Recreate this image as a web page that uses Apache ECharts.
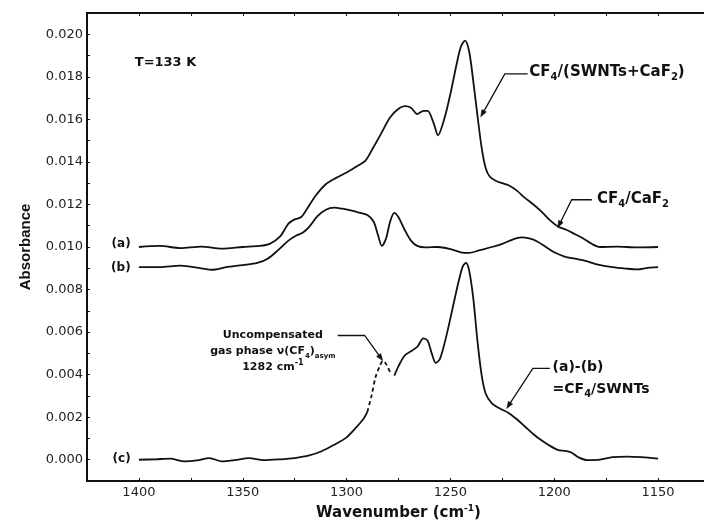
<!DOCTYPE html>
<html><head><meta charset="utf-8">
<script src="https://cdn.jsdelivr.net/npm/echarts@6/dist/echarts.min.js"></script>
<style>html,body{margin:0;padding:0;background:#fff}#c{width:704px;height:525px}</style>
</head><body><div id="c"></div>
<script>
// ---- data (wavenumber in cm^-1, absorbance) ----
const waveA = [1400,1390,1380,1370,1360,1350,1342,1337,1332,1328,1325,1322,1319,1315,1310,1305,1300,1295,1291,1287,1283,1279,1275,1272,1269,1266,1263,1261,1258,1256,1253,1250,1247,1245,1243,1241,1239,1237,1235,1233,1231,1228,1225,1222,1218,1214,1210,1206,1202,1198,1194,1190,1186,1182,1178,1170,1160,1150];
const absA  = [0.01000,0.01005,0.00995,0.01002,0.00992,0.01000,0.01005,0.01015,0.01050,0.01110,0.01130,0.01140,0.01180,0.01240,0.01295,0.01325,0.01350,0.01380,0.01405,0.01470,0.01540,0.01610,0.01650,0.01662,0.01655,0.01625,0.01640,0.01640,0.01580,0.01525,0.01600,0.01720,0.01860,0.01940,0.01970,0.01920,0.01780,0.01620,0.01470,0.01370,0.01330,0.01310,0.01300,0.01290,0.01265,0.01230,0.01200,0.01165,0.01125,0.01095,0.01080,0.01060,0.01040,0.01015,0.01000,0.01002,0.00998,0.01000];

const waveB = [1400,1390,1380,1370,1365,1358,1350,1343,1338,1333,1328,1324,1321,1318,1314,1310,1306,1302,1298,1294,1290,1287,1285,1283,1281,1279,1277,1275,1272,1269,1266,1262,1256,1250,1245,1241,1236,1230,1225,1220,1216,1212,1208,1204,1200,1195,1190,1185,1180,1172,1165,1160,1155,1150];
const absB  = [0.00905,0.00905,0.00912,0.00900,0.00893,0.00905,0.00915,0.00925,0.00945,0.00985,0.01030,0.01055,0.01068,0.01095,0.01145,0.01175,0.01185,0.01180,0.01172,0.01162,0.01150,0.01120,0.01060,0.01005,0.01040,0.01120,0.01160,0.01140,0.01080,0.01030,0.01005,0.00998,0.01000,0.00990,0.00975,0.00972,0.00985,0.01000,0.01015,0.01035,0.01045,0.01040,0.01025,0.01000,0.00975,0.00955,0.00945,0.00935,0.00920,0.00905,0.00898,0.00895,0.00902,0.00905];

// (c) = (a)-(b); split into solid / dashed (uncompensated gas phase) / solid
const waveC1 = [1400,1392,1385,1378,1372,1366,1360,1354,1347,1340,1332,1325,1318,1312,1306,1300,1296,1292,1290];
const absC1  = [0.00000,0.00002,0.00005,-0.00008,-0.00003,0.00008,-0.00008,-0.00002,0.00008,-0.00002,0.00002,0.00008,0.00020,0.00040,0.00070,0.00105,0.00145,0.00190,0.00225];
const waveC2 = [1290,1288,1286,1284,1282.5,1281,1279];
const absC2  = [0.00225,0.00300,0.00390,0.00440,0.00465,0.00450,0.00410];
const waveC3 = [1277,1275,1272,1269,1266,1263,1261,1259,1257,1255,1252,1249,1246,1244,1242.5,1241,1239,1237,1235,1233,1230,1226,1222,1218,1214,1210,1206,1202,1198,1195,1192,1188,1184,1178,1172,1165,1158,1150];
const absC3  = [0.00395,0.00440,0.00490,0.00510,0.00530,0.00570,0.00560,0.00500,0.00455,0.00475,0.00580,0.00710,0.00840,0.00910,0.00925,0.00890,0.00760,0.00560,0.00400,0.00310,0.00265,0.00240,0.00220,0.00190,0.00155,0.00120,0.00090,0.00065,0.00045,0.00042,0.00035,0.00010,-0.00002,0.00000,0.00012,0.00015,0.00012,0.00005];

const xTickLabels = [1400,1350,1300,1250,1200,1150];
const yTickLabels = ['0.000','0.002','0.004','0.006','0.008','0.010','0.012','0.014','0.016','0.018','0.020'];

const pairs = (xs, ys) => xs.map((x, i) => [x, ys[i]]);
const INK = '#111';
const FONT = 'DejaVu Sans';

const chart = echarts.init(document.getElementById('c'), null, {renderer: 'canvas'});

const lineSeries = (data, dashed) => ({
  type: 'line', data, smooth: 0.3, symbol: 'none', showSymbol: false,
  lineStyle: {color: INK, width: 1.8, type: dashed ? [4, 3] : 'solid'},
  silent: true, animation: false, z: 3
});

const xBase = {
  type: 'value', min: 1125, max: 1425, interval: 25, inverse: true,
  splitLine: {show: false},
  axisLine: {show: true, onZero: false, lineStyle: {color: INK, width: 2}},
  axisTick: {show: true, inside: true, length: 3, lineStyle: {color: INK, width: 1}}
};

const option = {
  backgroundColor: '#fff',
  animation: false,
  grid: {left: 87, top: 13, right: -6, bottom: 44, outerBoundsMode: 'none', containLabel: false},
  xAxis: [
    Object.assign({}, xBase, {
      position: 'bottom',
      name: 'Wavenumber (cm{sup|-1})', nameLocation: 'middle', nameGap: 21,
      nameTextStyle: {fontFamily: FONT, fontWeight: 'bold', fontSize: 15, color: INK, lineHeight: 18,
        rich: {sup: {fontFamily: FONT, fontWeight: 'bold', fontSize: 9, color: INK, verticalAlign: 'top', lineHeight: 8}}},
      axisLabel: {show: true, margin: 5, fontFamily: FONT, fontSize: 13, color: '#222',
        formatter: v => xTickLabels.indexOf(Math.round(v)) >= 0 ? String(Math.round(v)) : ''}
    }),
    Object.assign({}, xBase, {position: 'top', axisLabel: {show: false}})
  ],
  yAxis: {
    type: 'value', min: -0.001, max: 0.021, interval: 0.001,
    splitLine: {show: false},
    axisLine: {show: true, onZero: false, lineStyle: {color: INK, width: 2}},
    axisTick: {show: true, inside: true, length: 3, lineStyle: {color: INK, width: 1}},
    name: 'Absorbance', nameLocation: 'middle', nameGap: 54, nameRotate: 90,
    nameTextStyle: {fontFamily: 'Liberation Sans', fontWeight: 'bold', fontSize: 15, color: INK},
    axisLabel: {show: true, margin: 4, fontFamily: FONT, fontSize: 13, color: '#222',
      formatter: v => {
        const k = Math.round(v * 1000);
        const s = (k / 1000).toFixed(3);
        return yTickLabels.indexOf(s) >= 0 ? s : '';
      }}
  },
  series: [
    lineSeries(pairs(waveA, absA)),
    lineSeries(pairs(waveB, absB)),
    lineSeries(pairs(waveC1, absC1)),
    lineSeries(pairs(waveC2, absC2), true),
    lineSeries(pairs(waveC3, absC3))
  ]
};
chart.setOption(option);

// ---- annotations (anchored in data coordinates) ----
const P = (x, y) => chart.convertToPixel({xAxisIndex: 0, yAxisIndex: 0}, [x, y]);
const richSub = (size) => ({
  s: {fontFamily: FONT, fontWeight: 'bold', fontSize: size, fill: INK, verticalAlign: 'bottom', lineHeight: 10},
  p: {fontFamily: FONT, fontWeight: 'bold', fontSize: 8, fill: INK, verticalAlign: 'top', lineHeight: 8}
});

const texts = [
  {t: 'T=133 K', at: [1402, 0.01865], size: 13, align: 'left'},
  {t: '(a)', at: [1404, 0.01015], size: 12, align: 'right'},
  {t: '(b)', at: [1404, 0.00903], size: 12, align: 'right'},
  {t: '(c)', at: [1404, 0.00006], size: 12, align: 'right'},
  {t: 'CF{s|4}/(SWNTs+CaF{s|2})', at: [1212.0, 0.01822], size: 15, align: 'left'},
  {t: 'CF{s|4}/CaF{s|2}', at: [1179.4, 0.01225], size: 15, align: 'left'},
  {t: '(a)-(b)', at: [1200.8, 0.00436], size: 14, align: 'left'},
  {t: '=CF{s|4}/SWNTs', at: [1200.8, 0.00330], size: 14, align: 'left'},
  {t: 'Uncompensated', at: [1335.5, 0.00584], size: 11, align: 'center'},
  {t: 'gas phase ν(CF{s|4}){s|asym}', at: [1335.5, 0.00509], size: 11, align: 'center', sub: 7},
  {t: '1282 cm{p|-1}', at: [1335.5, 0.00434], size: 11, align: 'center'}
];

const arrows = [
  [[1212.8, 0.01814], [1223.8, 0.01814], [1235.4, 0.01612]],
  [[1181.9, 0.01222], [1191.6, 0.01222], [1198.3, 0.01091]],
  [[1202.1, 0.00429], [1210.3, 0.00429], [1222.9, 0.00241]],
  [[1304.3, 0.00584], [1291.3, 0.00584], [1282.6, 0.00466]]
];

const graphics = [];
texts.forEach(o => {
  const p = P(o.at[0], o.at[1]);
  graphics.push({
    type: 'text', x: p[0], y: p[1], z: 10, silent: true,
    style: {
      text: o.t, fill: INK, font: 'bold ' + o.size + 'px "' + FONT + '"',
      lineHeight: o.size + 5,
      textAlign: o.align, textVerticalAlign: 'middle',
      rich: richSub(o.sub || Math.round(o.size * 0.68))
    }
  });
});
arrows.forEach(a => {
  const pts = a.map(q => P(q[0], q[1]));
  const tip = pts[pts.length - 1], prev = pts[pts.length - 2];
  const dx = tip[0] - prev[0], dy = tip[1] - prev[1];
  const len = Math.hypot(dx, dy), ux = dx / len, uy = dy / len;
  const L = 7, W = 2.6;
  const bx = tip[0] - ux * L, by = tip[1] - uy * L;
  graphics.push({type: 'polyline', z: 10, silent: true,
    shape: {points: pts.slice(0, -1).concat([[bx + ux, by + uy]])},
    style: {stroke: INK, lineWidth: 1.3, fill: null}});
  graphics.push({type: 'polygon', z: 10, silent: true,
    shape: {points: [tip, [bx - uy * W, by + ux * W], [bx + uy * W, by - ux * W]]},
    style: {fill: INK, stroke: INK, lineWidth: 0.5}});
});
chart.setOption({graphic: graphics});
</script>
</body></html>
